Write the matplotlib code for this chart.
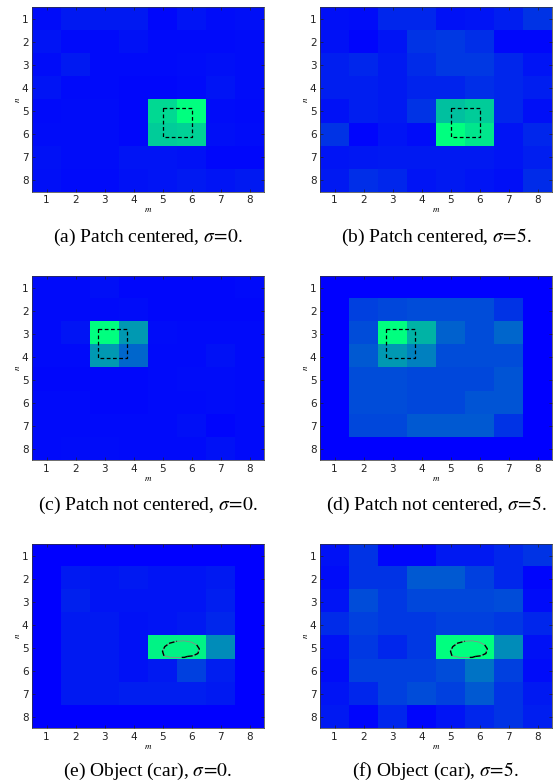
import numpy as np
import matplotlib
matplotlib.use("Agg")
import matplotlib.pyplot as plt

plt.rcParams["mathtext.fontset"] = "stix"

# response maps, rows = n (1..8 top to bottom), cols = m (1..8)
map_a = [
    [0.05, 0.10, 0.10, 0.10, 0.03, 0.08, 0.05, 0.06],
    [0.08, 0.04, 0.04, 0.07, 0.04, 0.04, 0.04, 0.05],
    [0.05, 0.10, 0.04, 0.04, 0.04, 0.05, 0.06, 0.05],
    [0.08, 0.04, 0.04, 0.03, 0.03, 0.04, 0.08, 0.05],
    [0.04, 0.05, 0.05, 0.03, 0.85, 1.00, 0.05, 0.04],
    [0.05, 0.05, 0.05, 0.03, 0.80, 0.82, 0.06, 0.05],
    [0.07, 0.05, 0.05, 0.08, 0.08, 0.07, 0.03, 0.03],
    [0.06, 0.04, 0.04, 0.07, 0.08, 0.10, 0.08, 0.10],
]
map_b = [
    [0.06, 0.05, 0.15, 0.15, 0.07, 0.08, 0.12, 0.20],
    [0.07, 0.02, 0.08, 0.20, 0.22, 0.18, 0.03, 0.03],
    [0.12, 0.15, 0.10, 0.17, 0.22, 0.22, 0.15, 0.08],
    [0.12, 0.12, 0.10, 0.14, 0.14, 0.18, 0.15, 0.12],
    [0.07, 0.12, 0.10, 0.20, 0.75, 0.80, 0.15, 0.06],
    [0.20, 0.02, 0.08, 0.05, 1.00, 0.90, 0.08, 0.15],
    [0.08, 0.09, 0.10, 0.10, 0.10, 0.10, 0.08, 0.12],
    [0.10, 0.18, 0.15, 0.08, 0.10, 0.08, 0.06, 0.17],
]
map_c = [
    [0.04, 0.04, 0.06, 0.03, 0.03, 0.03, 0.03, 0.04],
    [0.04, 0.04, 0.04, 0.05, 0.03, 0.03, 0.03, 0.03],
    [0.04, 0.08, 1.00, 0.60, 0.05, 0.04, 0.04, 0.04],
    [0.04, 0.04, 0.60, 0.40, 0.04, 0.04, 0.07, 0.04],
    [0.03, 0.03, 0.03, 0.03, 0.04, 0.05, 0.05, 0.04],
    [0.04, 0.04, 0.03, 0.03, 0.04, 0.04, 0.05, 0.04],
    [0.04, 0.04, 0.04, 0.04, 0.04, 0.06, 0.02, 0.04],
    [0.04, 0.05, 0.05, 0.04, 0.04, 0.04, 0.07, 0.04],
]
map_d = [
    [0.00, 0.00, 0.00, 0.00, 0.00, 0.00, 0.00, 0.00],
    [0.00, 0.25, 0.28, 0.30, 0.30, 0.30, 0.20, 0.00],
    [0.00, 0.30, 1.00, 0.70, 0.38, 0.30, 0.40, 0.00],
    [0.00, 0.35, 0.60, 0.50, 0.30, 0.30, 0.30, 0.00],
    [0.00, 0.30, 0.30, 0.28, 0.28, 0.28, 0.33, 0.00],
    [0.00, 0.30, 0.30, 0.28, 0.28, 0.33, 0.33, 0.00],
    [0.00, 0.28, 0.28, 0.35, 0.35, 0.35, 0.20, 0.00],
    [0.00, 0.00, 0.00, 0.00, 0.00, 0.00, 0.00, 0.00],
]
map_e = [
    [0.00, 0.00, 0.00, 0.00, 0.00, 0.00, 0.00, 0.00],
    [0.00, 0.10, 0.08, 0.10, 0.08, 0.08, 0.10, 0.00],
    [0.00, 0.13, 0.08, 0.08, 0.08, 0.08, 0.12, 0.00],
    [0.00, 0.10, 0.10, 0.07, 0.08, 0.10, 0.15, 0.00],
    [0.00, 0.10, 0.10, 0.07, 0.95, 0.95, 0.55, 0.00],
    [0.00, 0.10, 0.10, 0.07, 0.10, 0.25, 0.12, 0.00],
    [0.00, 0.10, 0.10, 0.12, 0.12, 0.12, 0.10, 0.00],
    [0.00, 0.00, 0.00, 0.00, 0.00, 0.00, 0.00, 0.00],
]
map_f = [
    [0.07, 0.20, 0.02, 0.02, 0.10, 0.10, 0.15, 0.20],
    [0.05, 0.20, 0.20, 0.35, 0.35, 0.25, 0.15, 0.02],
    [0.08, 0.30, 0.22, 0.28, 0.28, 0.28, 0.30, 0.05],
    [0.17, 0.25, 0.22, 0.22, 0.25, 0.25, 0.22, 0.15],
    [0.07, 0.22, 0.15, 0.22, 1.00, 1.00, 0.55, 0.07],
    [0.05, 0.25, 0.25, 0.25, 0.30, 0.45, 0.25, 0.05],
    [0.08, 0.15, 0.25, 0.30, 0.25, 0.35, 0.20, 0.10],
    [0.10, 0.02, 0.15, 0.02, 0.08, 0.15, 0.20, 0.12],
]

captions = [
    r"(a) Patch centered, $\sigma\!=\!0$.",
    r"(b) Patch centered, $\sigma\!=\!5$.",
    r"(c) Patch not centered, $\sigma\!=\!0$.",
    r"(d) Patch not centered, $\sigma\!=\!5$.",
    r"(e) Object (car), $\sigma\!=\!0$.",
    r"(f) Object (car), $\sigma\!=\!5$.",
]
ticks = [1, 2, 3, 4, 5, 6, 7, 8]

# ground-truth boxes (m0, m1, n0, n1)
box_centered = (5.0, 6.0, 4.88, 6.12)
box_offset = (2.76, 3.78, 2.80, 4.06)
# car outline (m, n), closed
car_m = [5.05, 5.0, 5.08, 5.25, 5.5, 5.75, 6.0, 6.18, 6.27, 6.22, 6.05, 5.85, 5.75, 5.6, 5.3, 5.05]
car_n = [5.35, 5.15, 4.95, 4.8, 4.72, 4.7, 4.76, 4.88, 5.05, 5.25, 5.35, 5.38, 5.42, 5.42, 5.42, 5.35]
car_black = [(0, 4), (7, 11), (11, 13)]  # index ranges drawn in black

maps = [map_a, map_b, map_c, map_d, map_e, map_f]
marks = ["box_c", "box_c", "box_o", "box_o", "car", "car"]

W, H = 554, 783
fig = plt.figure(figsize=(W / 100, H / 100), dpi=100)

lefts = [32, 320]
tops = [7.3, 276, 544]
aw, ah = 232, 184.4
cap_y = [237, 505, 771]

for i, (data, mk, cap) in enumerate(zip(maps, marks, captions)):
    r, c = divmod(i, 2)
    ax = fig.add_axes([lefts[c] / W, 1 - (tops[r] + ah) / H, aw / W, ah / H])
    ax.imshow(np.array(data), cmap="winter", vmin=0, vmax=1, aspect="auto",
              extent=(0.5, 8.5, 8.5, 0.5), interpolation="nearest")
    ax.set_xticks(ticks)
    ax.set_yticks(ticks)
    ax.tick_params(direction="in", top=True, right=True, length=2, width=0.5,
                   labelsize=7.5, pad=2.5, colors="#222222")
    for s in ax.spines.values():
        s.set_linewidth(0.5)
        s.set_color("#333333")
    ax.set_xlabel("$m$", fontsize=6.5, labelpad=0)
    ax.set_ylabel("$n$", fontsize=6.5, labelpad=0)

    if mk.startswith("box"):
        m0, m1, n0, n1 = box_centered if mk == "box_c" else box_offset
        ax.plot([m0, m1, m1, m0, m0], [n0, n0, n1, n1, n0], color="black",
                lw=0.9, ls=(0, (3, 2)))
    else:
        ax.plot(car_m, car_n, color="#8a8a8a", lw=0.6)
        for a, b in car_black:
            ax.plot(car_m[a:b + 1], car_n[a:b + 1], color="black", lw=1.0,
                    ls=(0, (4, 1.5)))

    fig.text((lefts[c] + aw / 2) / W, 1 - cap_y[r] / H, cap, ha="center",
             va="center", fontsize=14, family="Liberation Serif")

fig.savefig("out.png", dpi=100)
